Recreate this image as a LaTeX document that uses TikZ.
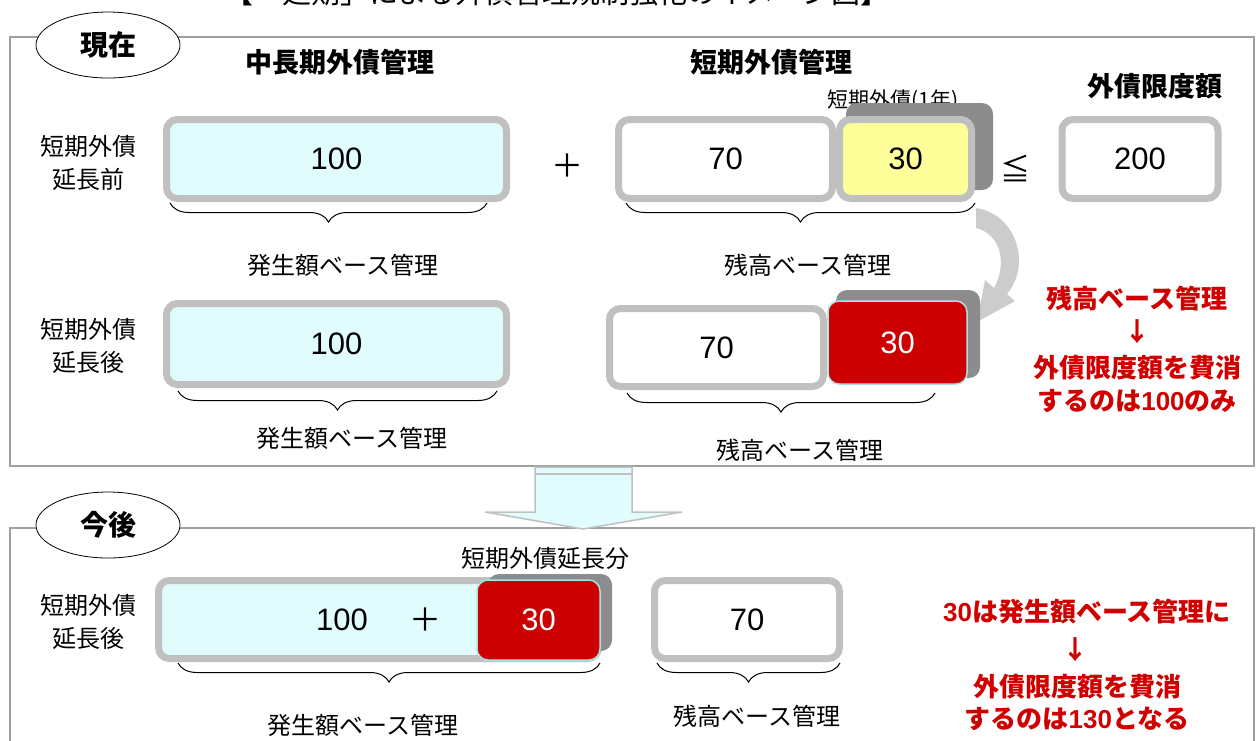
\documentclass[tikz,border=0pt]{standalone}
\usepackage{fontspec}
\setmainfont{Noto Sans CJK JP}
\newfontfamily\lat{Liberation Sans}
\usetikzlibrary{decorations.pathreplacing,shapes.geometric}
\definecolor{framegray}{HTML}{A0A0A0}
\definecolor{boxgray}{HTML}{C0C0C0}
\definecolor{cyanfill}{HTML}{E0FCFC}
\definecolor{yelfill}{HTML}{FFFF99}
\definecolor{redbox}{HTML}{CC0000}
\definecolor{redtxt}{HTML}{D00000}
\definecolor{shadowgray}{HTML}{8C8C8C}
\definecolor{arrgray}{HTML}{CCCCCC}
\definecolor{rededge}{HTML}{A8E4E4}
\begin{document}
\begin{tikzpicture}[x=1pt,y=-1pt,
  valbox/.style={draw=boxgray, line width=7pt, rounded corners=11pt, inner sep=0pt,
    font=\lat\fontsize{31}{31}\selectfont},
  redval/.style={draw=rededge, fill=redbox, line width=1.5pt, rounded corners=11pt, inner sep=0pt,
    text=white, font=\lat\fontsize{31}{31}\selectfont},
  numtxt/.style={font=\lat\fontsize{31}{31}\selectfont},
  heading/.style={font=\fontsize{27}{27}\selectfont\bfseries},
  rowlabel/.style={font=\fontsize{24}{33}\selectfont, align=center},
  bracelabel/.style={font=\fontsize{24}{24}\selectfont},
  redtext/.style={font=\fontsize{26}{26}\selectfont\bfseries, text=redtxt},
  bracedeco/.style={decorate, decoration={brace, mirror, amplitude=19pt, aspect=0.5}, line width=1pt},
  frameline/.style={draw=framegray, line width=1.3pt},
  tag/.style={ellipse, draw=black, line width=0.8pt, fill=white, minimum width=144pt,
    minimum height=66pt, font=\fontsize{28}{28}\selectfont\bfseries}
]
\useasboundingbox (0,0) rectangle (1258,740);
\clip (0,0) rectangle (1258,740);

% title (cut at top, as in the reference)
\node[font=\fontsize{29}{29}\selectfont] (title) at (557,-7) {【「延期」による外債管理規制強化のイメージ図】};

% frames
\draw[frameline] (10,37) rectangle (1254,466);
\draw[frameline] (10,528) rectangle (1254,760);

\node[tag] (now) at (108,45) {現在};
\node[tag] (future) at (108,525) {今後};

% headings
\node[heading] (h1) at (340,62) {中長期外債管理};
\node[heading] (h2) at (771,62) {短期外債管理};
\node[heading] (h3) at (1155,86) {外債限度額};
\node[font=\fontsize{21}{21}\selectfont] (h4) at (893,101) {短期外債(1年)};

% ---- row 1
\node[rowlabel] (l1) at (88,163) {短期外債\\延長前};
\node[valbox, fill=cyanfill, minimum width=340pt, minimum height=79pt] (a100) at (336.5,159) {100};
\node[font=\fontsize{32}{32}\selectfont] (plus1) at (567,166) {＋};
\node[valbox, fill=white, minimum width=214pt, minimum height=79pt] (a70) at (725.5,159) {70};
\fill[shadowgray, rounded corners=11pt] (846,103) rectangle (993,190);
\node[valbox, fill=yelfill, minimum width=132pt, minimum height=79pt] (a30) at (905.5,159) {30};
\node[font=\fontsize{30}{30}\selectfont] (leq) at (1015,168) {≦};
\node[valbox, fill=white, minimum width=156pt, minimum height=79pt] (a200) at (1140,159) {200};

\coordinate (ba1) at (170,203);
\coordinate (ba2) at (487,203);
\coordinate (ba3) at (626,203);
\coordinate (ba4) at (975,203);
\draw[bracedeco] (ba1) -- (ba2);
\draw[bracedeco] (ba3) -- (ba4);
\node[bracelabel] (bl1) at (343,265) {発生額ベース管理};
\node[bracelabel] (bl2) at (808,265) {残高ベース管理};

% curved arrow
\fill[arrgray] (976,208) .. controls (1016,214) and (1032,264) .. (1007,294)
  -- (1015,301) -- (977,322) -- (985,280) -- (994,288)
  .. controls (1008,262) and (1000,234) .. (976,228) -- cycle;

% ---- row 2
\node[rowlabel] (l2) at (88,346) {短期外債\\延長後};
\node[valbox, fill=cyanfill, minimum width=340pt, minimum height=81pt] (b100) at (336.5,344) {100};
\node[valbox, fill=white, minimum width=214pt, minimum height=78pt] (b70) at (716.5,347.5) {70};
\fill[shadowgray, rounded corners=11pt] (836,290) rectangle (980,378);
\node[redval, minimum width=139pt, minimum height=83pt] (b30) at (897.5,342.5) {30};

\coordinate (bb1) at (178,391);
\coordinate (bb2) at (497,391);
\coordinate (bb3) at (627,393);
\coordinate (bb4) at (935,393);
\draw[bracedeco] (bb1) -- (bb2);
\draw[bracedeco] (bb3) -- (bb4);
\node[bracelabel] (bl3) at (352,438) {発生額ベース管理};
\node[bracelabel] (bl4) at (800,450) {残高ベース管理};

\node[redtext] (r1) at (1137,298) {残高ベース管理};
\node[redtext] (r2) at (1137,332) {↓};
\node[redtext] (r3) at (1137,368) {外債限度額を費消};
\node[redtext] (r4) at (1137,401) {するのは{\lat 100}のみ};

% down arrow
\draw[draw=boxgray, line width=1.5pt, fill=cyanfill]
  (535,467) -- (632,467) -- (632,512) -- (682,512) -- (583,529) -- (485,512) -- (535,512) -- cycle;
\draw[boxgray, line width=1.5pt] (535,474) -- (632,474);

% ---- bottom
\node[rowlabel] (l3) at (88,622) {短期外債\\延長後};
\node[valbox, fill=cyanfill, minimum width=440pt, minimum height=78pt] (c100) at (378.5,619.5) {};
\node[numtxt] (c100t) at (342,620) {100};
\node[font=\fontsize{32}{32}\selectfont] (plus2) at (425,620) {＋};
\fill[shadowgray, rounded corners=11pt] (488,574) rectangle (612,651);
\node[redval, minimum width=123pt, minimum height=80pt] (c30) at (538.5,620) {30};
\node[font=\fontsize{24}{24}\selectfont] (h5) at (545,558) {短期外債延長分};
\node[valbox, fill=white, minimum width=185pt, minimum height=78pt] (c70) at (747,619.5) {70};

\coordinate (bc1) at (178,663);
\coordinate (bc2) at (600,663);
\coordinate (bc3) at (657,663);
\coordinate (bc4) at (840,663);
\draw[bracedeco] (bc1) -- (bc2);
\draw[bracedeco] (bc3) -- (bc4);
\node[bracelabel] (bl5) at (363,725) {発生額ベース管理};
\node[bracelabel] (bl6) at (757,716) {残高ベース管理};

\node[redtext] (r5) at (1087,612) {{\lat 30}は発生額ベース管理に};
\node[redtext] (r6) at (1075,650) {↓};
\node[redtext] (r7) at (1077,687) {外債限度額を費消};
\node[redtext] (r8) at (1077,719) {するのは{\lat 130}となる};
\end{tikzpicture}
\end{document}
